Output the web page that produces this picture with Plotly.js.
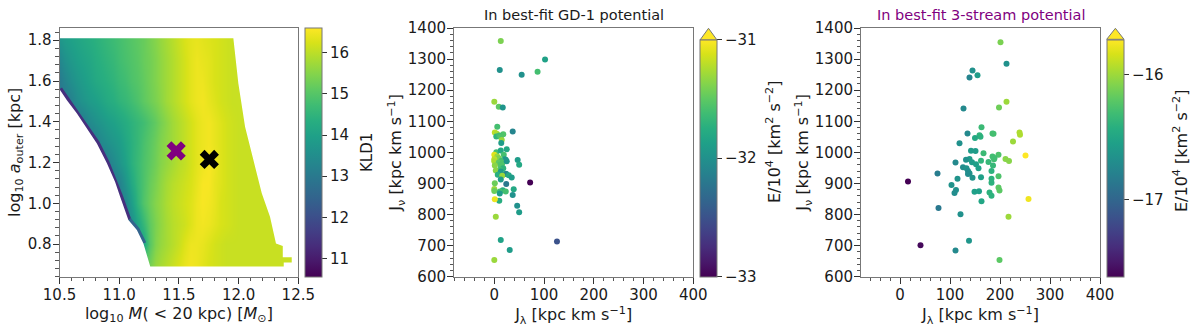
<!DOCTYPE html>
<html>
<head>
<meta charset="utf-8">
<script src="https://cdn.plot.ly/plotly-3.0.1.min.js"></script>
<style>
  html, body { margin: 0; padding: 0; background: #fff; }
  #chart { width: 1196px; height: 327px; }
</style>
</head>
<body>
<div id="chart"></div>
<script>
// --- panel 1: KLD1 over the (M, a_outer) grid ---
const massGrid = [10.50, 10.55, 10.60, 10.65, 10.70, 10.75, 10.80, 10.85, 10.90, 10.95,
                  11.00, 11.05, 11.10, 11.15, 11.20, 11.25, 11.30, 11.35, 11.40, 11.45,
                  11.50, 11.55, 11.60, 11.65, 11.70, 11.75, 11.80, 11.85, 11.90, 11.95,
                  12.00, 12.05, 12.10, 12.15, 12.20, 12.25, 12.30, 12.35, 12.40, 12.45];
const aOuterGrid = [0.7, 0.8, 0.9, 1.0, 1.1, 1.2, 1.3, 1.4, 1.5, 1.6, 1.7, 1.8];

const kld070 = [15.2, 15.2, 15.2, 15.2, 15.2, 15.2, 15.2, 15.2, 15.2, 15.2, 15.2, 15.2, 15.2, 15.2, 15.2,
                15.3, 15.65, 15.8, 15.95, 16.1, 16.25, 16.4, 16.5, 16.45, 16.35, 16.25, 16.2, 16.15,
                16.1, 16.1, 16.1, 16.1, 16.1, 16.1, 16.1, 16.1, 16.1, 16.1, 16.1, 16.1];
const kld080 = [14.0, 14.0, 14.0, 14.0, 14.0, 14.0, 14.0, 14.0, 14.0, 14.0, 14.0, 14.0, 14.0, 14.0,
                14.1, 15.0, 15.45, 15.65, 15.8, 15.95, 16.1, 16.3, 16.45, 16.45, 16.4, 16.3, 16.2, 16.15,
                16.1, 16.1, 16.1, 16.1, 16.1, 16.1, 16.1, 16.1, 16.1, 16.1, 16.1, 16.1];
const kld090 = [13.4, 13.4, 13.4, 13.4, 13.4, 13.4, 13.4, 13.4, 13.4, 13.4, 13.4, 13.4,
                13.5, 14.1, 14.6, 15.1, 15.4, 15.6, 15.8, 15.95, 16.05, 16.15, 16.3, 16.45, 16.5, 16.45,
                16.35, 16.25, 16.2, 16.15,
                16.1, 16.1, 16.1, 16.1, 16.1, 16.1, 16.1, 16.1, 16.1, 16.1];
const kld100 = [13.1, 13.1, 13.1, 13.1, 13.1, 13.1, 13.1, 13.1, 13.1, 13.1, 13.1,
                13.3, 13.9, 14.5, 14.95, 15.25, 15.5, 15.65, 15.85, 16.0, 16.1, 16.2, 16.3, 16.45, 16.55,
                16.5, 16.4, 16.25, 16.2, 16.15,
                16.1, 16.1, 16.1, 16.1, 16.1, 16.1, 16.1, 16.1, 16.1, 16.1];
const kld110 = [13.0, 13.0, 13.0, 13.0, 13.0, 13.0, 13.0, 13.0, 13.0, 13.0,
                13.2, 13.7, 14.2, 14.6, 14.9, 15.2, 15.4, 15.6, 15.8, 15.95, 16.05, 16.15, 16.25, 16.4,
                16.55, 16.55, 16.4, 16.3, 16.2, 16.15,
                16.1, 16.1, 16.1, 16.1, 16.1, 16.1, 16.1, 16.1, 16.1, 16.1];
const kld120 = [13.0, 13.0, 13.0, 13.0, 13.0, 13.0, 13.0, 13.0,
                13.1, 13.4, 13.7, 14.0, 14.4, 14.65, 14.9, 15.1, 15.3, 15.5, 15.65, 15.8, 15.95, 16.05,
                16.2, 16.35, 16.45, 16.55, 16.45, 16.3, 16.2, 16.15,
                16.1, 16.1, 16.1, 16.1, 16.1, 16.1, 16.1, 16.1, 16.1, 16.1];
const kld130 = [13.0, 13.0, 13.0, 13.0, 13.0, 13.0,
                13.1, 13.4, 13.6, 13.75, 13.9, 14.15, 14.4, 14.6, 14.85, 15.05, 15.25, 15.45, 15.6, 15.75,
                15.9, 16.05, 16.2, 16.35, 16.45, 16.5, 16.4, 16.3, 16.2, 16.15,
                16.1, 16.1, 16.1, 16.1, 16.1, 16.1, 16.1, 16.1, 16.1, 16.1];
const kld140 = [13.0, 13.0, 13.0, 13.0,
                13.1, 13.4, 13.6, 13.75, 13.9, 14.0, 14.15, 14.3, 14.45, 14.6, 14.75, 14.95, 15.15, 15.35,
                15.55, 15.75, 15.9, 16.05, 16.2, 16.35, 16.45, 16.5, 16.4, 16.3, 16.2, 16.15,
                16.1, 16.1, 16.1, 16.1, 16.1, 16.1, 16.1, 16.1, 16.1, 16.1];
const kld150 = [13.0, 13.0, 13.2, 13.5, 13.7, 13.85, 13.95, 14.1, 14.25, 14.35, 14.5, 14.6, 14.75, 14.9,
                15.1, 15.25, 15.4, 15.55, 15.75, 15.9, 16.05, 16.2, 16.35, 16.45, 16.5, 16.4, 16.3, 16.2,
                16.15, 16.1,
                16.1, 16.1, 16.1, 16.1, 16.1, 16.1, 16.1, 16.1, 16.1, 16.1];
const kld160 = [13.0, 13.3, 13.55, 13.75, 13.9, 14.05, 14.2, 14.3, 14.4, 14.5, 14.65, 14.75, 14.9, 15.0,
                15.15, 15.3, 15.45, 15.6, 15.75, 15.9, 16.05, 16.2, 16.35, 16.45, 16.45, 16.35, 16.25, 16.2,
                16.15, 16.1,
                16.1, 16.1, 16.1, 16.1, 16.1, 16.1, 16.1, 16.1, 16.1, 16.1];
const kld170 = [13.3, 13.6, 13.8, 13.95, 14.05, 14.15, 14.3, 14.4, 14.5, 14.6, 14.75, 14.85, 14.95, 15.05,
                15.2, 15.3, 15.45, 15.6, 15.75, 15.9, 16.05, 16.2, 16.35, 16.45, 16.4, 16.35, 16.25, 16.2,
                16.15, 16.1,
                16.1, 16.1, 16.1, 16.1, 16.1, 16.1, 16.1, 16.1, 16.1, 16.1];
const kld180 = [13.7, 13.9, 14.0, 14.1, 14.2, 14.3, 14.4, 14.5, 14.6, 14.7, 14.8, 14.9, 15.0, 15.1,
                15.2, 15.35, 15.5, 15.65, 15.8, 15.95, 16.1, 16.25, 16.35, 16.4, 16.35, 16.3, 16.25, 16.2,
                16.15, 16.1,
                16.1, 16.1, 16.1, 16.1, 16.1, 16.1, 16.1, 16.1, 16.1, 16.1];

// edges of the sampled region (everything outside is blank)
const leftEdgeM = [10.5, 10.5, 10.562, 10.646, 10.729, 10.813, 10.897, 10.966, 11.008, 11.077, 11.148, 11.203, 11.26];
const leftEdgeA = [1.81, 1.56, 1.506, 1.441, 1.367, 1.294, 1.196, 1.105, 1.032, 0.918, 0.869, 0.803, 0.69];
const rightEdgeM = [11.956, 11.998, 12.054, 12.124, 12.194, 12.263, 12.313, 12.37, 12.37, 12.445, 12.445, 12.378, 12.378];
const rightEdgeA = [1.81, 1.588, 1.375, 1.212, 1.049, 0.934, 0.803, 0.79, 0.735, 0.735, 0.71, 0.71, 0.69];
// low-KLD rim along the left edge: purple (~11) down to a~0.92, bluish (~12.5) below
const rimDark = { from: 1, to: 9, color: '#46307e' };
const rimBlue = { from: 9, to: 11, color: '#33648d' };

// best-fit points
const gd1BestM = [11.755], gd1BestA = [1.215];
const threeBestM = [11.477], threeBestA = [1.257];

// --- panel 2: actions in best-fit GD-1 potential ---
const gd1Jlam = [13, 102, 11, 55, 87, 0, 9, 17, 6, 37, 1, 5, 18, 4, 10, 13, 15, 14, 25, 4, 13, 0, 19,
                 6, 9, 0, 21, 15, 23, 47, 0, 9, 17, 25, 12, 50, 1, 15, 18, 11, 3, 13, 23, 7, 24, 16, 29,
                 35, 13, 72, 1, 24, 0, 39, 17, 0, 11, 23, 11, 37, 10, 1, 46, 50, 3, 13, 126, 31, 0];
const gd1Jnu = [1358, 1299, 1265, 1250, 1259, 1163, 1147, 1144, 1082, 1067, 1064, 1060, 1058, 1051, 1054,
                1049, 1040, 1030, 1010, 1000, 1006, 992, 992, 987, 981, 978, 978, 974, 976, 975, 971, 967,
                967, 971, 960, 960, 958, 957, 949, 944, 942, 938, 931, 928, 930, 925, 926, 919, 913, 903,
                901, 898, 882, 881, 878, 876, 874, 874, 868, 863, 844, 849, 828, 807, 793, 718, 713, 686, 654];
const gd1E = [-31.4, -31.86, -32.0, -32.0, -31.6, -31.3, -31.5, -31.96, -31.6, -32.1, -31.2, -31.25, -31.55,
              -31.7, -31.6, -31.55, -31.3, -31.9, -31.8, -31.6, -31.8, -31.1, -31.6, -31.3, -31.4, -31.2,
              -31.9, -31.6, -31.95, -31.9, -31.25, -31.5, -31.55, -31.95, -31.55, -31.8, -31.35, -31.55,
              -31.7, -31.6, -31.35, -31.9, -31.7, -31.75, -32.1, -31.3, -31.8, -31.9, -31.9, -33.0, -31.45,
              -32.2, -31.3, -31.8, -31.75, -31.45, -31.6, -31.6, -31.9, -32.0, -31.75, -31.05, -32.0, -31.9,
              -31.3, -31.85, -32.5, -31.9, -31.3];

// --- panel 3: actions in best-fit 3-stream potential ---
const triJlam = [201, 213, 145, 155, 139, 213, 198, 127, 163, 135, 185, 187, 239, 240, 159, 161, 150, 226,
                 119, 142, 151, 167, 197, 251, 185, 189, 139, 188, 132, 211, 218, 162, 177, 111, 144, 152,
                 186, 126, 133, 157, 136, 183, 139, 75, 136, 197, 162, 145, 183, 115, 16, 183, 103, 197,
                 112, 199, 149, 158, 109, 179, 183, 257, 163, 77, 121, 217, 138, 41, 111, 199];
const triJnu = [1354, 1285, 1263, 1248, 1241, 1163, 1144, 1141, 1081, 1061, 1061, 1060, 1064, 1057, 1055,
                1050, 1046, 1035, 1029, 1005, 1004, 997, 992, 990, 987, 982, 979, 978, 976, 979, 972, 973,
                969, 967, 968, 962, 958, 952, 949, 949, 940, 940, 933, 932, 930, 923, 920, 918, 915, 915,
                906, 902, 895, 887, 879, 877, 873, 875, 869, 871, 860, 850, 843, 821, 801, 793, 716, 701,
                684, 654];
const triE = [-16.1, -16.67, -16.67, -16.58, -16.77, -16.0, -16.14, -16.73, -16.33, -16.73, -16.29, -16.29,
              -15.95, -15.95, -16.38, -16.4, -16.48, -16.0, -16.67, -16.58, -16.58, -16.33, -16.25, -15.72,
              -16.3, -16.3, -16.58, -16.3, -16.67, -16.06, -16.06, -16.38, -16.35, -16.73, -16.58, -16.55,
              -16.35, -16.7, -16.65, -16.55, -16.7, -16.4, -16.65, -16.82, -16.7, -16.25, -16.55, -16.65,
              -16.4, -16.65, -17.62, -16.4, -16.65, -16.2, -16.67, -16.2, -16.55, -16.55, -16.7, -16.4,
              -16.4, -15.76, -16.5, -16.86, -16.67, -16.0, -16.63, -17.58, -16.73, -16.2];

const W = 1196, H = 327;
const px = v => v / W;           // pixel -> paper x
const py = v => 1 - v / H;       // pixel -> paper y
const FONT = 'DejaVu Sans';
const TXT = '#1a1a1a';
const LINE = '#777';

// white mask around the sampled region: outer box with the region cut out
const maskM = [10.3, 12.7, 12.7, 10.3, 10.3]
  .concat(leftEdgeM, rightEdgeM.slice().reverse(), [10.5, 10.3]);
const maskA = [2.0, 2.0, 0.5, 0.5, leftEdgeA[0]]
  .concat(leftEdgeA, rightEdgeA.slice().reverse(), [leftEdgeA[0], leftEdgeA[0]]);

function rimTrace(rim) {
  return {
    type: 'scatter', mode: 'lines',
    x: leftEdgeM.slice(rim.from, rim.to + 1), y: leftEdgeA.slice(rim.from, rim.to + 1),
    line: { color: rim.color, width: 6 },
    xaxis: 'x', yaxis: 'y', hoverinfo: 'skip', showlegend: false
  };
}

function cbar(x, yTop, yBot, extra) {
  return Object.assign({
    x: px(x), xanchor: 'left', xpad: 0, ypad: 0,
    y: py(yBot), yanchor: 'bottom', len: (yBot - yTop) / H, lenmode: 'fraction',
    thickness: 17, outlinecolor: LINE, outlinewidth: 1,
    ticks: 'outside', ticklen: 5, tickcolor: '#333',
    tickfont: { family: FONT, size: 15, color: TXT }
  }, extra);
}

const traces = [
  {
    type: 'heatmap', x: massGrid, y: aOuterGrid,
    z: [kld070, kld080, kld090, kld100, kld110, kld120, kld130, kld140, kld150, kld160, kld170, kld180],
    zsmooth: 'best', colorscale: 'Viridis', zmin: 10.55, zmax: 16.6,
    xaxis: 'x', yaxis: 'y', hoverinfo: 'skip',
    colorbar: cbar(305, 28, 277, { tickvals: [11, 12, 13, 14, 15, 16] })
  },
  rimTrace(rimDark),
  rimTrace(rimBlue),
  {
    type: 'scatter', mode: 'lines', x: maskM, y: maskA, fill: 'toself',
    fillcolor: '#ffffff', line: { width: 0, color: '#ffffff' },
    xaxis: 'x', yaxis: 'y', hoverinfo: 'skip', showlegend: false
  },
  {
    type: 'scatter', mode: 'markers', x: threeBestM, y: threeBestA,
    marker: { symbol: 'x', size: 17, color: '#800080', line: { width: 0 } },
    xaxis: 'x', yaxis: 'y', showlegend: false
  },
  {
    type: 'scatter', mode: 'markers', x: gd1BestM, y: gd1BestA,
    marker: { symbol: 'x', size: 17, color: '#000000', line: { width: 0 } },
    xaxis: 'x', yaxis: 'y', showlegend: false
  },
  {
    type: 'scatter', mode: 'markers', x: gd1Jlam, y: gd1Jnu,
    marker: {
      size: 6, color: gd1E, colorscale: 'Viridis', cmin: -33, cmax: -31, line: { width: 0 },
      colorbar: cbar(700, 40, 276.7, { tickvals: [-33, -32, -31], ticktext: ['−33', '−32', '−31'] })
    },
    xaxis: 'x2', yaxis: 'y2', showlegend: false
  },
  {
    type: 'scatter', mode: 'markers', x: triJlam, y: triJnu,
    marker: {
      size: 6, color: triE, colorscale: 'Viridis', cmin: -17.62, cmax: -15.72, line: { width: 0 },
      colorbar: cbar(1106.7, 39.3, 276.7, { tickvals: [-17, -16], ticktext: ['−17', '−16'] })
    },
    xaxis: 'x3', yaxis: 'y3', showlegend: false
  }
];

function axis(domain, range, dtick, minorDtick, fmt, title, standoff, anchor) {
  return {
    domain: domain, range: range, anchor: anchor,
    showgrid: false, zeroline: false,
    showline: true, linecolor: LINE, linewidth: 1, mirror: true,
    ticks: 'outside', ticklen: 6, tickwidth: 1, tickcolor: '#333', ticklabelstandoff: -2,
    tick0: 0, dtick: dtick, tickformat: fmt,
    minor: { ticks: 'outside', ticklen: 3.5, tickwidth: 1, tickcolor: '#555', dtick: minorDtick, tick0: 0, showgrid: false },
    tickfont: { family: FONT, size: 15, color: TXT },
    title: { text: title, standoff: standoff, font: { family: FONT, size: 16, color: TXT } },
    automargin: false, fixedrange: true
  };
}

const yDom = [py(276.7), py(28.0)];
const jlamTitle = 'J<sub>λ</sub> [kpc km s<sup>−1</sup>]';
const jnuTitle = 'J<sub>ν</sub> [kpc km s<sup>−1</sup>]';
const energyTitle = 'E/10<sup>4</sup> [km<sup>2</sup> s<sup>−2</sup>]';

function vtext(text, x, y, size) {
  return { text: text, xref: 'paper', yref: 'paper', x: px(x), y: py(y),
           xanchor: 'center', yanchor: 'middle', textangle: -90, showarrow: false,
           font: { family: FONT, size: size, color: TXT } };
}

const layout = {
  width: W, height: H,
  margin: { l: 0, r: 0, t: 0, b: 0 },
  paper_bgcolor: '#ffffff', plot_bgcolor: '#ffffff',
  font: { family: FONT, size: 15, color: TXT },
  showlegend: false,
  xaxis: axis([px(59.5), px(298.3)], [10.5, 12.5], 0.5, 0.1, '.1f',
              'log<sub>10</sub> <i>M</i>( &lt; 20 kpc) [<i>M</i><sub>⊙</sub>]', 1, 'y'),
  yaxis: axis(yDom, [0.64, 1.86], 0.2, 0.04, '.1f',
              'log<sub>10</sub> <i>a</i><sub>outer</sub> [kpc]', 3, 'x'),
  xaxis2: axis([px(454), px(693.3)], [-81, 400], 100, 20, 'd', jlamTitle, 1, 'y2'),
  yaxis2: axis(yDom, [600, 1400], 100, 20, 'd', jnuTitle, 1, 'x2'),
  xaxis3: axis([px(861), px(1100)], [-78, 400], 100, 20, 'd', jlamTitle, 1, 'y3'),
  yaxis3: axis(yDom, [600, 1400], 100, 20, 'd', jnuTitle, 1, 'x3'),
  annotations: [
    { text: 'In best-fit GD-1 potential', xref: 'paper', yref: 'paper',
      x: px((454 + 693.3) / 2), y: py(15), xanchor: 'center', yanchor: 'middle', showarrow: false,
      font: { family: FONT, size: 14.5, color: TXT } },
    { text: 'In best-fit 3-stream potential', xref: 'paper', yref: 'paper',
      x: px((861 + 1100) / 2), y: py(15), xanchor: 'center', yanchor: 'middle', showarrow: false,
      font: { family: FONT, size: 14.5, color: '#800080' } },
    // colorbar labels
    vtext('KLD1', 367, 153, 15),
    vtext(energyTitle, 773, 142, 16),
    vtext(energyTitle, 1180, 151, 16)
  ],
  // "extend" arrows on top of the two energy colorbars
  shapes: [
    { type: 'path', xref: 'paper', yref: 'paper', layer: 'above',
      path: `M${px(700)},${py(40)} L${px(708.5)},${py(28.3)} L${px(717)},${py(40)} Z`,
      fillcolor: '#fde725', line: { color: LINE, width: 1 } },
    { type: 'path', xref: 'paper', yref: 'paper', layer: 'above',
      path: `M${px(1106.7)},${py(39.3)} L${px(1115.4)},${py(28.3)} L${px(1124)},${py(39.3)} Z`,
      fillcolor: '#fde725', line: { color: LINE, width: 1 } }
  ]
};

Plotly.newPlot('chart', traces, layout, { staticPlot: true, displayModeBar: false });
</script>
</body>
</html>
